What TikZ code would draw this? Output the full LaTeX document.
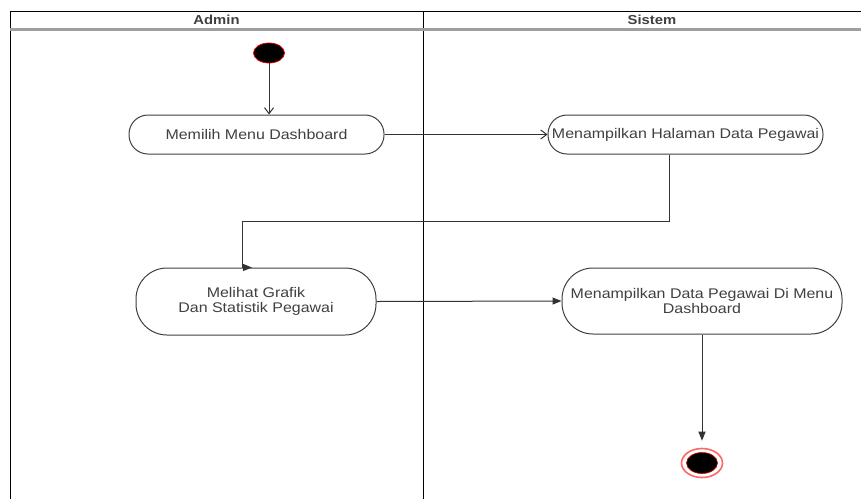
\documentclass[tikz,border=0pt]{standalone}
\usepackage{fontspec}
\setmainfont[FakeStretch=1.14]{Liberation Sans}
\usetikzlibrary{arrows.meta,shapes.geometric}
\begin{document}
\begin{tikzpicture}[x=1pt,y=-1pt,
  lane/.style={draw=black, line width=1pt},
  hdr/.style={font=\bfseries\fontsize{13}{14}\selectfont, text=black!75},
  act/.style={draw=black!75, line width=1pt, inner sep=0pt, align=center,
    text=black!75, font=\fontsize{14}{15.5}\selectfont},
  flow/.style={draw=black!80, line width=1pt},
  openarr/.style={flow, -{Straight Barb[length=6pt,width=9pt,line width=1pt]}},
  fillarr/.style={flow, -{Triangle[length=9pt,width=7pt]}},
]
\useasboundingbox (0,0) rectangle (861,499);
\fill[white] (0,0) rectangle (861,499);

% swimlanes
\draw[lane] (10,499) -- (10,11) -- (865,11);
\draw[lane] (423,11) -- (423,499);
\draw[gray!75, line width=2.2pt] (10,29.5) -- (865,29.5);
\node[hdr] (hadmin) at (216.5,19.5) {Admin};
\node[hdr] (hsistem) at (652,19.5) {Sistem};

% start
\node[ellipse, draw=red!85!black, line width=0.8pt, fill=black, minimum width=31pt, minimum height=20pt, inner sep=0pt] (start) at (269,53) {};

% activities
\node[act, rounded corners=19pt, minimum width=255pt, minimum height=39pt] (n1) at (256.5,134.5) {Memilih Menu Dashboard};
\node[act, rounded corners=19pt, minimum width=275pt, minimum height=39pt] (n2) at (685.5,134.5) {Menampilkan Halaman Data Pegawai};
\node[act, rounded corners=31pt, minimum width=240pt, minimum height=67pt] (n3) at (256,301.5) {Melihat Grafik\\Dan Statistik Pegawai};
\node[act, rounded corners=31pt, minimum width=280pt, minimum height=66pt] (n4) at (702,301) {Menampilkan Data Pegawai Di Menu\\Dashboard};

% end
\node[ellipse, draw=red!60, line width=1.6pt, fill=white, minimum width=41pt, minimum height=29pt, inner sep=0pt] (endo) at (702,463) {};
\node[ellipse, draw=red!80!black, line width=0.6pt, fill=black, minimum width=31pt, minimum height=21pt, inner sep=0pt] (endi) at (702,463) {};

% connectors
\coordinate (b1) at (669,221);
\coordinate (b2) at (242,221);
\draw[openarr] (start) -- (start |- n1.north);
\draw[openarr] (n1.east) -- (n2.west);
\draw[fillarr] (b1 |- n2.south) -- (b1) -- (b2) -- (b2 |- n3.north) -- ++(10,0);
\draw[fillarr] (n3.east) -- (n4.west);
\draw[fillarr, shorten >=7pt] (n4.south) -- (endo.north);
\end{tikzpicture}
\end{document}
